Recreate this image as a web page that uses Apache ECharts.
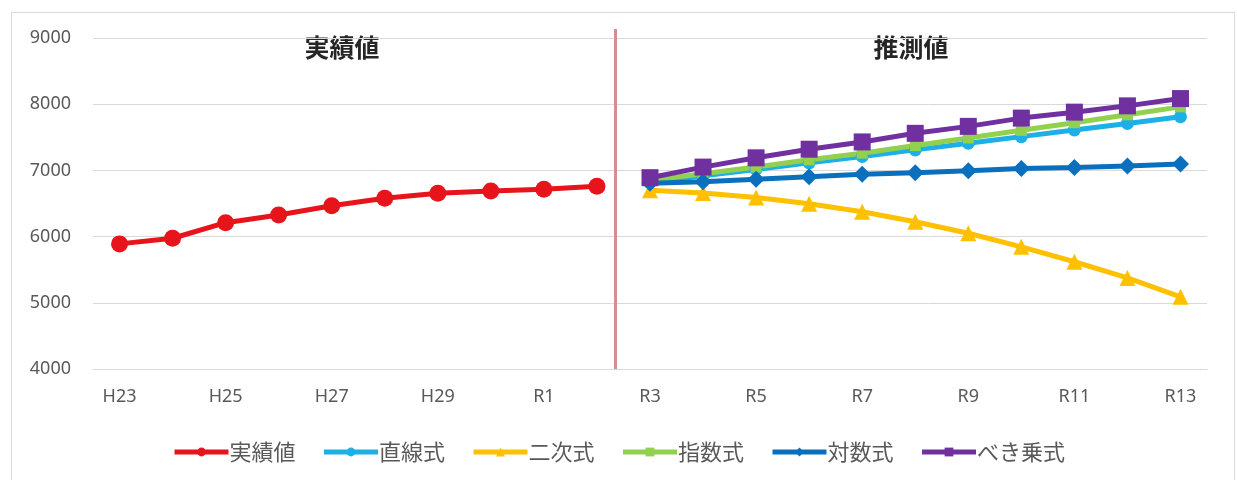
<!DOCTYPE html>
<html>
<head>
<meta charset="utf-8">
<script src="https://cdn.jsdelivr.net/npm/echarts@6/dist/echarts.min.js"></script>
<style>
  html, body { margin: 0; padding: 0; background: #fff; }
  #chart { width: 1237px; height: 480px; }
</style>
</head>
<body>
<div id="chart"></div>
<script>
// Fiscal years: Heisei 23 .. Reiwa 13
const years = ['H23','H24','H25','H26','H27','H28','H29','H30','R1','R2',
               'R3','R4','R5','R6','R7','R8','R9','R10','R11','R12','R13'];

// Recorded values (H23 .. R2)
const actual = [5890, 5975, 6210, 6325, 6465, 6580, 6655, 6690, 6715, 6760];

// Projections for R3 .. R13 by fitting method
const linearFit  = [6820, 6920, 7015, 7115, 7210, 7310, 7410, 7510, 7610, 7710, 7810];
const quadFit    = [6700, 6660, 6590, 6495, 6375, 6225, 6050, 5845, 5620, 5375, 5090];
const expFit     = [6850, 6950, 7050, 7160, 7260, 7375, 7490, 7605, 7720, 7840, 7960];
const logFit     = [6805, 6830, 6865, 6905, 6940, 6965, 6995, 7030, 7045, 7065, 7095];
const powerFit   = [6890, 7050, 7190, 7320, 7430, 7560, 7665, 7790, 7880, 7975, 8085];

const yTicks = { min: 4000, max: 9000, step: 1000 };

// Divider between recorded and projected years, in category-band units
const dividerPos = 9.85;

const nActual = actual.length;
const total = years.length;
const pad = (arr, before) => {
  const out = new Array(total).fill(null);
  arr.forEach((v, i) => { out[before + i] = v; });
  return out;
};

const chart = echarts.init(document.getElementById('chart'));

const jp = '"Noto Sans CJK JP", "Noto Sans", sans-serif';
const latin = '"Noto Sans", "Noto Sans CJK JP", sans-serif';

function lineSeries(name, values, offset, color, symbol, size) {
  return {
    name, type: 'line',
    data: pad(values, offset),
    symbol, symbolSize: size,
    lineStyle: { color, width: 5 },
    itemStyle: { color },
    emphasis: { disabled: true },
    z: 3
  };
}

chart.setOption({
  animation: false,
  backgroundColor: '#fff',
  textStyle: { fontFamily: jp },
  grid: { left: 93, right: 30, top: 38, bottom: 111 },
  xAxis: [
    {
      type: 'category',
      data: years,
      boundaryGap: true,
      axisLine: { show: true, lineStyle: { color: '#d9d9d9' } },
      axisTick: { show: false },
      axisLabel: { interval: 1, color: '#595959', fontSize: 18, margin: 19, fontFamily: latin }
    },
    {
      // helper axis spanning the same width, used to place the divider
      type: 'value', min: 0, max: total, show: false
    }
  ],
  yAxis: {
    type: 'value',
    min: yTicks.min, max: yTicks.max, interval: yTicks.step,
    axisLine: { show: false },
    axisTick: { show: false },
    splitLine: { lineStyle: { color: '#d9d9d9', width: 1 } },
    axisLabel: {
      color: '#595959', fontSize: 18, margin: 22, fontFamily: latin,
      formatter: v => String(v)
    }
  },
  legend: {
    data: ['実績値', '直線式', '二次式', '指数式', '対数式', 'べき乗式'],
    top: 436,
    left: 'center',
    itemWidth: 54,
    itemHeight: 11,
    itemGap: 26,
    lineStyle: { width: 5 },
    textStyle: { color: '#595959', fontSize: 22, fontFamily: jp, padding: [0, 0, 0, -4] }
  },
  graphic: [
    {
      type: 'rect', left: 9, top: 10, silent: true,
      shape: { width: 1223, height: 470 },
      style: { fill: 'none', stroke: '#d9d9d9', lineWidth: 1 }
    },
    {
      type: 'text', x: 342, y: 47, silent: true,
      style: {
        text: '実績値', fill: '#262626', align: 'center', verticalAlign: 'middle',
        font: 'bold 25px "Noto Sans CJK JP"'
      }
    },
    {
      type: 'text', x: 911, y: 47, silent: true,
      style: {
        text: '推測値', fill: '#262626', align: 'center', verticalAlign: 'middle',
        font: 'bold 25px "Noto Sans CJK JP"'
      }
    }
  ],
  series: [
    lineSeries('実績値', actual, 0, '#e8141c', 'circle', 17),
    lineSeries('直線式', linearFit, nActual, '#1cb0e6', 'circle', 13),
    lineSeries('二次式', quadFit, nActual, '#ffc000', 'triangle', 16),
    lineSeries('指数式', expFit, nActual, '#92d050', 'rect', 11),
    lineSeries('対数式', logFit, nActual, '#0a70bd', 'diamond', 17),
    lineSeries('べき乗式', powerFit, nActual, '#7030a0', 'rect', 17)
  ]
});

// Vertical divider, placed through the axes and extended a little above the plot
const divTop = chart.convertToPixel({ xAxisIndex: 1, yAxisIndex: 0 }, [dividerPos, yTicks.max]);
const divBottom = chart.convertToPixel({ xAxisIndex: 1, yAxisIndex: 0 }, [dividerPos, yTicks.min]);
chart.setOption({
  graphic: [{
    id: 'divider', type: 'line', silent: true, z: 1,
    shape: { x1: divTop[0], y1: divTop[1] - 9, x2: divBottom[0], y2: divBottom[1] },
    style: { stroke: '#d09090', lineWidth: 3 }
  }]
});
</script>
</body>
</html>
